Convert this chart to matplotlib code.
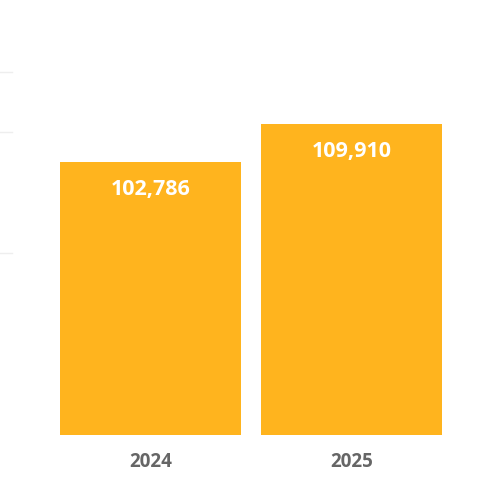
import matplotlib
matplotlib.use("Agg")
from matplotlib import pyplot as plt
from matplotlib.transforms import blended_transform_factory

years = ["2024", "2025"]
totals = [102786, 109910]
grid_vals = [85700, 108400, 119650]

plt.rcParams['font.family'] = ['Open Sans', 'DejaVu Sans']

fig = plt.figure(figsize=(5, 5), dpi=100)
ax = fig.add_axes([0.10, 0.13, 0.804, 0.85])

bars = ax.bar(range(len(years)), totals, width=0.9, color='#FFB41E')
ax.set_xlim(-0.5, 1.5)
ax.set_ylim(51606, 51606 + 425 / 0.005334)

for i, v in enumerate(totals):
	ax.annotate(f"{v:,}", (i, v), xytext=(0, -20), textcoords='offset points',
		ha='center', va='center', color='white', fontsize=15.5, fontweight='bold')
	ax.annotate(years[i], (i, 0), xycoords=('data', 'axes fraction'), xytext=(0, -19.5),
		textcoords='offset points', ha='center', va='center', color='#666666',
		fontsize=13.5, fontweight='bold')

tr = blended_transform_factory(fig.transFigure, ax.transData)
for g in grid_vals:
	ax.plot([0, 0.024], [g, g], color='#eeeeee', lw=1, transform=tr, clip_on=False)

ax.set_xticks([])
ax.set_yticks([])
for s in ax.spines.values():
	s.set_visible(False)

fig.savefig('out.png', dpi=100)
